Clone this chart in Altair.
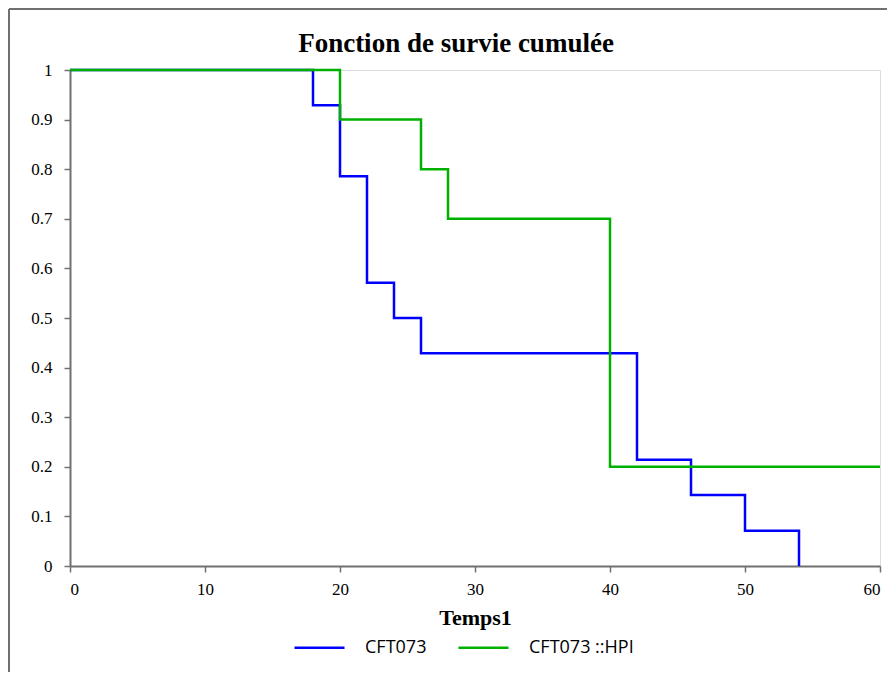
import altair as alt
import pandas as pd

# Data (Kaplan-Meier survival curves)
cft_times = [0, 18, 20, 22, 24, 26, 42, 46, 50, 54]
cft_surv = [1.0, 0.929, 0.786, 0.571, 0.5, 0.429, 0.214, 0.143, 0.071, 0.0]

hpi_times = [0, 20, 26, 28, 40, 60]
hpi_surv = [1.0, 0.9, 0.8, 0.7, 0.2, 0.2]

series_names = ["CFT073", "CFT073 ::HPI"]
series_colors = ["#0000ff", "#00b000"]

x_ticks = [0, 10, 20, 30, 40, 50, 60]
y_ticks = [0, 0.1, 0.2, 0.3, 0.4, 0.5, 0.6, 0.7, 0.8, 0.9, 1]

chart_title = "Fonction de survie cumulée"
x_title = "Temps1"

rows = []
for t, s in zip(cft_times, cft_surv):
    rows.append({"Temps": t, "Survie": s, "Souche": series_names[0]})
for t, s in zip(hpi_times, hpi_surv):
    rows.append({"Temps": t, "Survie": s, "Souche": series_names[1]})
df = pd.DataFrame(rows)

AXIS_COLOR = "#707070"
SERIF = "Liberation Serif"

lines = alt.Chart(df).mark_line(interpolate="step-after", strokeWidth=2.5).encode(
    x=alt.X("Temps:Q",
            scale=alt.Scale(domain=[0, 60], nice=False, zero=False),
            axis=alt.Axis(values=x_ticks, title=x_title, grid=False,
                          domainColor=AXIS_COLOR, domainWidth=2,
                          tickColor=AXIS_COLOR, tickWidth=1.5, tickSize=6,
                          labelFont=SERIF, labelFontSize=17, labelColor="#000",
                          labelPadding=9,
                          titleFont=SERIF, titleFontSize=22, titleFontWeight="bold",
                          titleColor="#000", titlePadding=10)),
    y=alt.Y("Survie:Q",
            scale=alt.Scale(domain=[0, 1], nice=False),
            axis=alt.Axis(values=y_ticks, title=None, grid=False, format="~g",
                          domainColor=AXIS_COLOR, domainWidth=2,
                          tickColor=AXIS_COLOR, tickWidth=1.5, tickSize=6,
                          labelFont=SERIF, labelFontSize=17, labelColor="#000",
                          labelPadding=12)),
    color=alt.Color("Souche:N",
                    scale=alt.Scale(domain=series_names, range=series_colors),
                    legend=alt.Legend(title=None, orient="none", direction="horizontal",
                                      legendX=223, legendY=551,
                                      symbolType="stroke", symbolSize=2500,
                                      symbolStrokeWidth=2.5,
                                      labelFont="Open Sans", labelFontSize=18,
                                      labelColor="#000", labelOffset=19,
                                      columnPadding=26, padding=0)),
)

title_df = pd.DataFrame({"label": [chart_title]})
title_mark = alt.Chart(title_df).mark_text(
    font=SERIF, fontSize=27, fontWeight="bold", color="#000",
    align="center", baseline="alphabetic"
).encode(text="label:N", x=alt.value(386), y=alt.value(-18))

frame_left = alt.Chart(title_df).mark_rule(color="#707070", strokeWidth=2).encode(
    x=alt.value(-61), y=alt.value(-61), y2=alt.value(700)
)
frame_top = alt.Chart(title_df).mark_rule(color="#707070", strokeWidth=2).encode(
    x=alt.value(-61), x2=alt.value(900), y=alt.value(-61)
)

chart = alt.layer(frame_left, frame_top, title_mark, lines).properties(
    width=810,
    height=496,
    autosize=alt.AutoSizeParams(type="none"),
    padding={"left": 62, "top": 62, "right": 7, "bottom": 106},
).configure_view(
    stroke="#a0a0a0", strokeWidth=2
).configure(background="white")

chart.save("out.html", embed_options={"renderer": "svg", "actions": False})
